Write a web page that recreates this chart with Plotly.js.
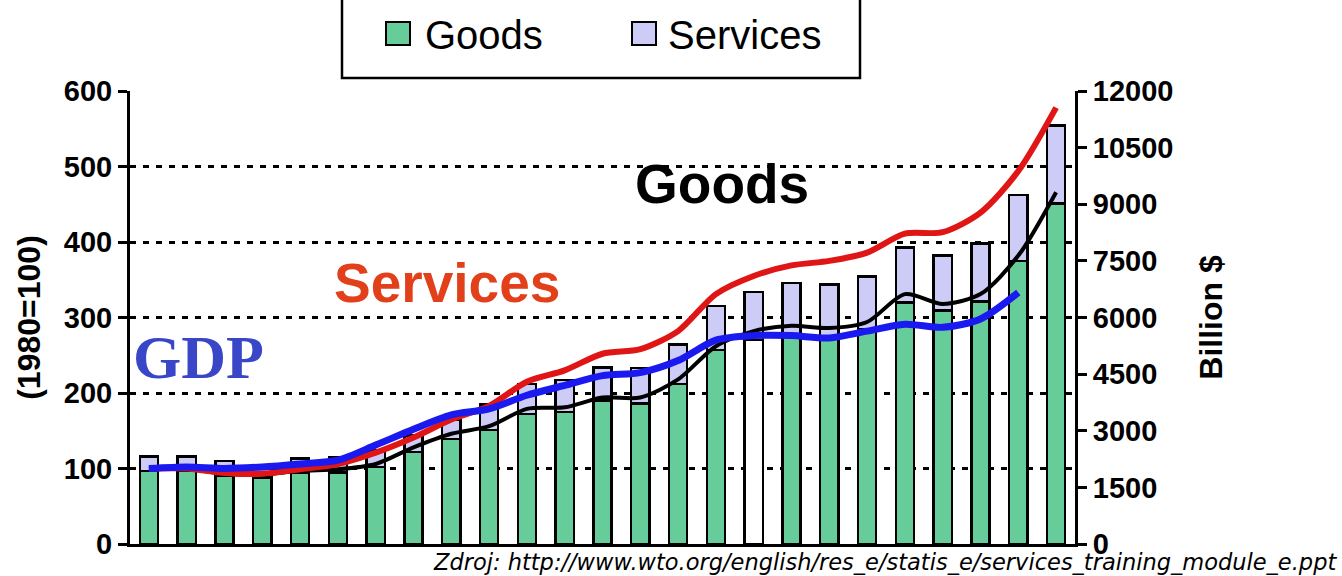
<!DOCTYPE html>
<html>
<head>
<meta charset="utf-8">
<script src="https://cdn.plot.ly/plotly-3.0.1.min.js"></script>
<style>html,body{margin:0;padding:0;background:#fff;}#chart{width:1342px;height:576px;}</style>
</head>
<body>
<div id="chart"></div>
<script>
// ---- data ----
const years = ["1980","1981","1982","1983","1984","1985","1986","1987","1988","1989","1990","1991","1992","1993","1994","1995","1996","1997","1998","1999","2000","2001","2002","2003","2004"];
// exports, billion $ (right axis)
const goodsExports    = [1940,1940,1820,1760,1900,1900,2040,2440,2780,3020,3440,3500,3800,3720,4240,5140,5400,5560,5500,5680,6400,6180,6420,7500,9020];
const servicesExports = [ 380, 380, 380, 320, 360, 400, 440, 440, 510, 680, 800, 840, 880, 940,1040,1160,1280,1360,1380,1400,1460,1460,1540,1740,2060];
// indices, 1980 = 100 (left axis)
const servicesIndex = [100,100, 94, 93, 99,106,121,141,165,183,215,230,252,258,282,331,355,369,375,386,411,413,439,494,578];
const goodsIndex    = [100,100, 93, 92, 97, 99,106,128,146,156,179,181,194,194,218,262,282,289,286,294,331,318,331,382,466];
const gdpIndex      = [100,102,100,102,106,111,131,152,171,179,197,210,223,227,243,270,276,276,273,282,291,287,298,333,null];
const leftTicks  = [0,100,200,300,400,500,600];
const rightTicks = [0,1500,3000,4500,6000,7500,9000,10500,12000];

// ---- styling ----
const GREEN = "#66CC99", LAVENDER = "#CCCCF7";
const goodsFill = years.map(y => y === "1996" ? "#FFFFFF" : GREEN);
const L = 130, R = 1075, T = 91, B = 544, W = 1342, H = 576;
const px = x => (x - L) / (R - L);
const py = y => (B - y) / (B - T);
const SANS = "Liberation Sans, Arial, sans-serif";

const traces = [
  {type:"bar", name:"Goods", x:years, y:goodsExports, yaxis:"y",
   marker:{color:goodsFill, line:{color:"#000", width:2.5}}, hoverinfo:"x+y+name"},
  {type:"bar", name:"Services", x:years, y:servicesExports, yaxis:"y",
   marker:{color:LAVENDER, line:{color:"#000", width:2.5}}, hoverinfo:"x+y+name"},
  {type:"scatter", mode:"lines", name:"Goods index", x:years, y:goodsIndex, yaxis:"y2",
   line:{color:"#000000", width:4, shape:"spline", smoothing:0.8}},
  {type:"scatter", mode:"lines", name:"Services index", x:years, y:servicesIndex, yaxis:"y2",
   line:{color:"#E01515", width:6, shape:"spline", smoothing:0.8}},
  {type:"scatter", mode:"lines", name:"GDP index", x:years, y:gdpIndex, yaxis:"y2",
   line:{color:"#1A1AF0", width:7, shape:"spline", smoothing:0.8}, connectgaps:false}
];

const tickFont = {family:SANS, size:29, color:"#000", weight:"bold"};
const titleFont = {family:SANS, size:32, color:"#000", weight:"bold"};

const layout = {
  width:W, height:H,
  margin:{l:L, r:W-R, t:T, b:H-B, pad:0},
  paper_bgcolor:"#fff", plot_bgcolor:"rgba(0,0,0,0)",
  barmode:"stack", bargap:0.52,
  showlegend:false,
  xaxis:{type:"category", showticklabels:false, ticks:"", showgrid:false, zeroline:false,
         showline:true, linecolor:"#000", linewidth:3, fixedrange:true},
  yaxis:{side:"right", range:[0,12000], tickvals:rightTicks, ticktext:rightTicks.map(String),
         showgrid:false, zeroline:false, showline:true, linecolor:"#000", linewidth:3,
         ticks:"outside", ticklen:9, tickwidth:3, tickcolor:"#000", tickfont:tickFont,
         title:{text:"Billion $", font:titleFont, standoff:28}, automargin:false},
  yaxis2:{overlaying:"y", side:"left", range:[0,600], tickvals:leftTicks, ticktext:leftTicks.map(String),
          showgrid:true, gridcolor:"#000", gridwidth:3, griddash:"6px,7px",
          zeroline:false, showline:true, linecolor:"#000", linewidth:3,
          ticks:"outside", ticklen:9, tickwidth:3, tickcolor:"#000", tickfont:tickFont,
          title:{text:"(1980=100)", font:titleFont, standoff:14}, automargin:false},
  shapes:[
    {type:"rect", xref:"paper", yref:"paper", x0:px(342), x1:px(860), y0:py(78), y1:py(-12),
     line:{color:"#000", width:2.5}, fillcolor:"#fff", layer:"above"},
    {type:"rect", xref:"paper", yref:"paper", x0:px(386), x1:px(410), y0:py(45), y1:py(22),
     line:{color:"#000", width:2}, fillcolor:GREEN, layer:"above"},
    {type:"rect", xref:"paper", yref:"paper", x0:px(632), x1:px(656), y0:py(45), y1:py(22),
     line:{color:"#000", width:2}, fillcolor:LAVENDER, layer:"above"}
  ],
  annotations:[
    {xref:"paper", yref:"paper", x:px(423), y:py(35), xanchor:"left", yanchor:"middle", showarrow:false,
     text:"Goods", font:{family:SANS, size:40, color:"#000"}},
    {xref:"paper", yref:"paper", x:px(666), y:py(35), xanchor:"left", yanchor:"middle", showarrow:false,
     text:"Services", font:{family:SANS, size:40, color:"#000"}},
    {xref:"paper", yref:"paper", x:px(722), y:py(184), xanchor:"center", yanchor:"middle", showarrow:false,
     text:"Goods", font:{family:SANS, size:55, color:"#000", weight:"bold"}},
    {xref:"paper", yref:"paper", x:px(447), y:py(283), xanchor:"center", yanchor:"middle", showarrow:false,
     text:"Services", font:{family:SANS, size:55, color:"#E2401A", weight:"bold"}},
    {xref:"paper", yref:"paper", x:px(198), y:py(357), xanchor:"center", yanchor:"middle", showarrow:false,
     text:"GDP", font:{family:"Liberation Serif, Times New Roman, serif", size:62, color:"#3A46C8", weight:"bold"}},
    {xref:"paper", yref:"paper", x:px(1339), y:py(562), xanchor:"right", yanchor:"middle", showarrow:false,
     text:"Zdroj: http://www.wto.org/english/res_e/statis_e/services_training_module_e.ppt",
     font:{family:"DejaVu Sans, sans-serif", size:22.5, color:"#000", style:"italic"}}
  ]
};

Plotly.newPlot("chart", traces, layout, {displayModeBar:false, staticPlot:true});
</script>
</body>
</html>
